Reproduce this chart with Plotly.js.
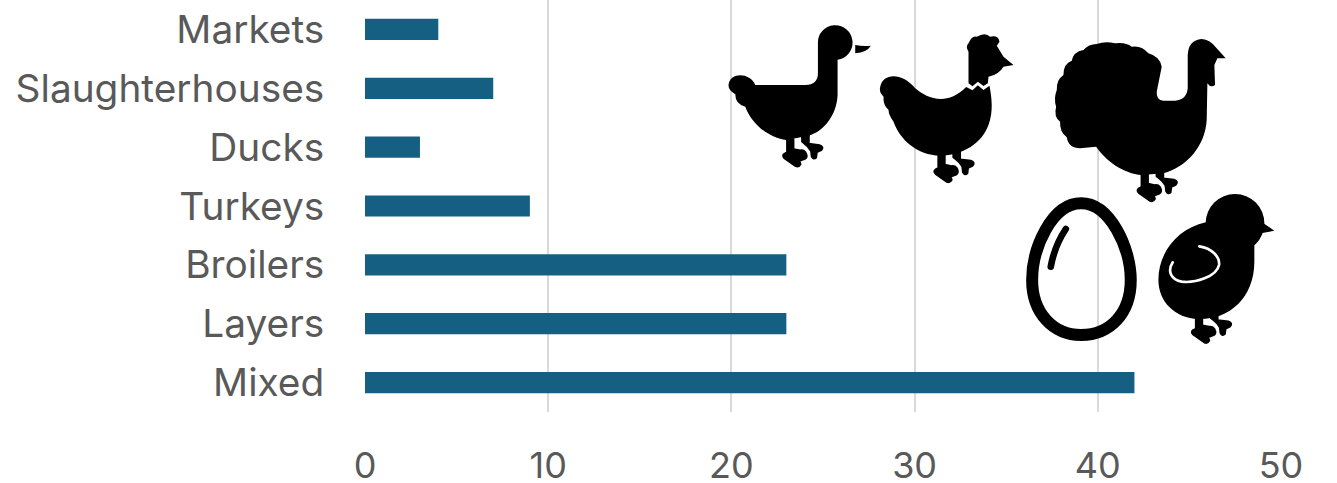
<!DOCTYPE html>
<html><head><meta charset="utf-8">
<script src="https://cdn.plot.ly/plotly-3.0.1.min.js"></script>
<style>html,body{margin:0;padding:0;background:#fff}#c{width:1337px;height:483px}</style>
</head><body><div id="c"></div>
<script>
const categories = ["Mixed","Layers","Broilers","Turkeys","Ducks","Slaughterhouses","Markets"];
const values = [42,23,23,9,3,7,4];
const xTicks = [0,10,20,30,40,50];

const legs = '<g id="legs" stroke="#000" stroke-width="5" stroke-linejoin="round"><path d="M200 372 L200 412 L192 416 Q184 422 192 430 L226 454 Q236 458 241 448 L238 438 L254 432 Q264 426 256 412 Q250 404 240 406 L220 402 L220 372 Z"/><path d="M245 365 L245 380 L250 384 Q264 394 272 408 L274 425 Q280 436 288 428 L290 412 L303 406 Q313 395 298 390 L266 386 L266 360 Z"/></g>';
const overlay = `<svg xmlns="http://www.w3.org/2000/svg" xmlns:xlink="http://www.w3.org/1999/xlink" width="1337" height="483" viewBox="0 0 1337 483">
<g transform="translate(720,15) scale(0.33333)">
 <path d="M293 85 A52 52 0 1 1 352 134 L352 240 C350 300 310 350 265 362 L198 375 C150 370 95 330 75 275 Q45 268 45 238 Q22 225 25 208 C30 170 90 172 105 210 L255 210 Q293 210 293 175 Z"/>
 <path d="M405 90 Q430 95 452 92 Q440 112 405 115 Z"/>
 ${legs}
 <path d="M480 215 C490 170 550 175 585 220 C620 250 680 275 738 216 L757 226 L773 211 L790 225 L808 212 C815 250 820 290 805 330 C785 385 730 420 660 422 C590 420 540 375 520 320 Q505 300 505 285 Q488 270 490 245 Q475 230 480 215 Z"/>
 <path d="M745 205 L757 214 L773 200 L790 213 L803 205 L805 185 Q835 180 850 155 L880 150 L850 125 L830 92 L838 80 Q835 60 810 65 Q795 50 770 65 Q755 60 745 85 Q735 95 745 110 Z"/>
 <use xlink:href="#legs" href="#legs" transform="translate(454,47)"/>
</g>
<g transform="translate(1020,30) scale(0.33333)">
 <path d="M425 110 Q420 80 385 70 Q365 45 335 50 Q315 35 285 40 Q255 33 230 42 Q205 42 190 60 Q160 65 155 92 Q130 100 130 135 Q108 150 110 180 Q100 205 108 230 Q100 260 120 275 Q118 305 140 322 Q145 355 180 355 L228 350 C260 395 310 430 365 435 L430 430 C500 410 555 350 560 270 L562 160 Q572 175 585 165 L583 105 L592 85 L617 85 L590 55 Q570 28 545 27 Q505 30 503 75 L503 175 Q500 210 465 212 L430 212 Q408 210 410 185 Z"/>
 <use xlink:href="#legs" href="#legs" transform="translate(164,59)"/>
</g>
<g transform="translate(1015,185) scale(0.33333)">
 <path d="M198 55 C110 55 51 190 51 285 C51 385 115 450 198 450 C285 450 347 385 347 285 C347 190 285 55 198 55 Z" fill="none" stroke="#000" stroke-width="36"/>
 <path d="M152 132 C130 165 115 200 107 245" fill="none" stroke="#000" stroke-width="20" stroke-linecap="round"/>
 <path d="M572 112 C490 130 430 200 430 285 C430 350 480 400 550 402 C640 405 718 340 718 230 L718 180 L660 100 Z"/>
 <circle cx="660" cy="115" r="88"/>
 <path d="M745 115 L778 137 L738 145 Z"/>
 <path d="M553 184 C590 190 615 215 612 240 C605 275 540 295 500 290 C470 285 455 260 473 232" fill="none" stroke="#fff" stroke-width="8" stroke-linecap="round"/>
 <use xlink:href="#legs" href="#legs" transform="translate(342,19)"/>
</g>
</svg>`;

const data = [{
  type:'bar', orientation:'h', x:values, y:categories,
  marker:{color:'#156082', line:{width:0}}, hoverinfo:'x+y'
}];
const layout = {
  width:1337, height:483, autosize:false,
  margin:{l:364.5,r:56,t:0,b:71,autoexpand:false},
  paper_bgcolor:'#fff', plot_bgcolor:'#fff', showlegend:false,
  bargap:0.64,
  font:{family:'Inter, "Open Sans", sans-serif', color:'#595959', size:36},
  xaxis:{range:[0,50], tickvals:xTicks, showgrid:true, gridcolor:'#d9d9d9', gridwidth:2,
    zeroline:false, showline:false, ticks:'outside', ticklen:22, tickcolor:'rgba(0,0,0,0)',
    tickfont:{size:36,color:'#595959'}, automargin:false},
  yaxis:{type:'category', categoryorder:'array', categoryarray:categories, range:[-0.5,6.5],
    showgrid:false, zeroline:false, showline:false, ticks:'outside', ticklen:32, tickcolor:'rgba(0,0,0,0)',
    tickfont:{size:38.8,color:'#595959'}, automargin:false},
  images:[{source:'data:image/svg+xml;charset=utf-8,'+encodeURIComponent(overlay),
    xref:'paper', yref:'paper', x:-364.5/916.5, y:1, sizex:1337/916.5, sizey:483/412,
    xanchor:'left', yanchor:'top', sizing:'stretch', layer:'above'}]
};
Plotly.newPlot('c', data, layout, {displayModeBar:false, responsive:false});
</script></body></html>
